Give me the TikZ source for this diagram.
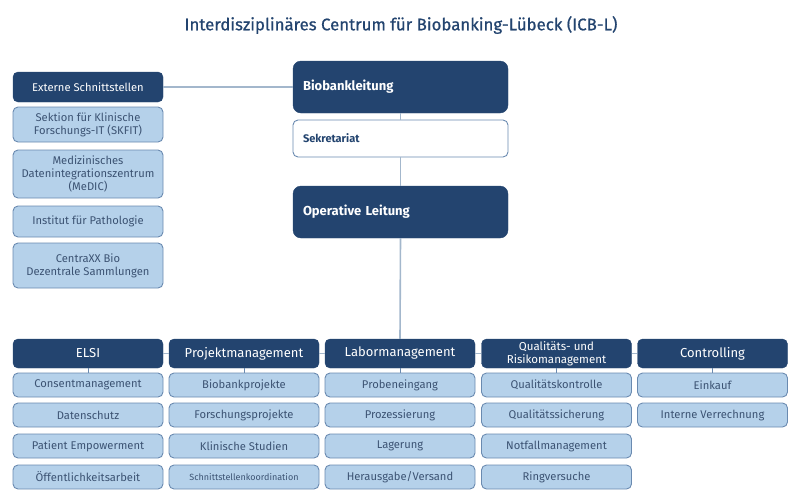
\documentclass[tikz,border=0pt]{standalone}
\usepackage{fontspec}
\setmainfont{Fira Sans}
\newfontfamily\titlefont[FakeBold=0.8]{Fira Sans}
\definecolor{dblue}{HTML}{23446F}
\definecolor{lblue}{HTML}{B5D1EA}
\definecolor{lborder}{HTML}{6A8AB0}
\definecolor{conn}{HTML}{A3B7CC}
\definecolor{ltext}{HTML}{3C5373}
\tikzset{
  x=1pt,y=-1pt,
  dbox/.style={draw=dblue,fill=dblue,text=white,rounded corners=5pt,minimum width=150pt,inner sep=0pt,align=center,font=\fontsize{13}{13}\selectfont},
  lbox/.style={draw=lborder,fill=lblue,text=ltext,rounded corners=5pt,minimum width=150pt,inner sep=0pt,align=center,line width=0.9pt,font=\fontsize{11.2}{13}\selectfont},
  bigbox/.style={draw=dblue,fill=dblue,text=white,rounded corners=8pt,text width=195pt,inner xsep=10pt,inner ysep=0pt,align=left,minimum height=52pt,font=\bfseries\fontsize{13}{13}\selectfont},
  wbox/.style={draw=lborder,fill=white,text=dblue,rounded corners=5pt,text width=195pt,inner xsep=10pt,inner ysep=0pt,align=left,minimum height=37pt,line width=0.9pt,font=\bfseries\fontsize{11}{12}\selectfont},
  cline/.style={draw=conn,line width=1.6pt},
  tick/.style={draw=lborder,line width=1pt}
}
\begin{document}
\begin{tikzpicture}
\useasboundingbox (0,0) rectangle (800,499);
\node[text=dblue,font=\titlefont\fontsize{16.8}{17}\selectfont] (title) at (401,25) {Interdisziplinäres Centrum für Biobanking-Lübeck (ICB-L)};
% left column
\node[dbox,minimum height=30pt,font=\fontsize{11.2}{12}\selectfont] (ext) at (88,87) {Externe Schnittstellen};
\node[lbox,minimum height=35pt] (skfit) at (88,124.5) {Sektion für Klinische\\Forschungs-IT (SKFIT)};
\node[lbox,minimum height=48pt] (medic) at (88,174) {Medizinisches\\Datenintegrationszentrum\\(MeDIC)};
\node[lbox,minimum height=31pt] (path) at (88,221.5) {Institut für Pathologie};
\node[lbox,minimum height=45pt] (cxx) at (88,265.5) {CentraXX Bio\\Dezentrale Sammlungen};
% centre
\node[bigbox] (bbl) at (400.5,87) {Biobankleitung};
\node[wbox] (sekr) at (400.5,138.5) {Sekretariat};
\node[bigbox] (opl) at (400.5,212) {Operative Leitung};
% headers
\node[dbox,minimum height=29pt] (elsi) at (88,353.5) {ELSI};
\node[dbox,minimum height=29pt] (pm) at (244,353.5) {Projektmanagement};
\node[dbox,minimum height=29pt] (lm) at (400,353.5) {Labormanagement};
\node[dbox,minimum height=29pt,font=\fontsize{11.5}{12.5}\selectfont] (qrm) at (556.5,353.5) {Qualitäts- und\\Risikomanagement};
\node[dbox,minimum height=29pt] (ctrl) at (712.5,353.5) {Controlling};
% subs ELSI
\node[lbox,minimum height=24pt] (e1) at (88,385) {Consentmanagement};
\node[lbox,minimum height=24pt] (e2) at (88,415) {Datenschutz};
\node[lbox,minimum height=24pt] (e3) at (88,446) {Patient Empowerment};
\node[lbox,minimum height=24pt] (e4) at (88,477) {Öffentlichkeitsarbeit};
% subs PM
\node[lbox,minimum height=24pt] (p1) at (244,385) {Biobankprojekte};
\node[lbox,minimum height=24pt] (p2) at (244,415) {Forschungsprojekte};
\node[lbox,minimum height=24pt] (p3) at (244,446) {Klinische Studien};
\node[lbox,minimum height=24pt,font=\fontsize{9}{10}\selectfont] (p4) at (244,477) {Schnittstellenkoordination};
% subs LM
\node[lbox,minimum height=24pt] (l1) at (400,385) {Probeneingang};
\node[lbox,minimum height=24pt] (l2) at (400,415) {Prozessierung};
\node[lbox,minimum height=24pt] (l3) at (400,446) {Lagerung};
\node[lbox,minimum height=24pt] (l4) at (400,477) {Herausgabe/Versand};
% subs QRM
\node[lbox,minimum height=24pt] (q1) at (556.5,385) {Qualitätskontrolle};
\node[lbox,minimum height=24pt] (q2) at (556.5,415) {Qualitätssicherung};
\node[lbox,minimum height=24pt] (q3) at (556.5,446) {Notfallmanagement};
\node[lbox,minimum height=24pt] (q4) at (556.5,477) {Ringversuche};
% subs Controlling
\node[lbox,minimum height=24pt] (c1) at (712.5,385) {Einkauf};
\node[lbox,minimum height=24pt] (c2) at (712.5,415) {Interne Verrechnung};
% connectors
\draw[cline] (ext.east) -- (bbl.west);
\draw[cline] (bbl.south) -- (sekr.north);
\draw[cline] (sekr.south) -- (opl.north);
\draw[cline] (opl.south) -- (lm.north);
\draw[cline] (elsi.east) -- (pm.west);
\draw[cline] (pm.east) -- (lm.west);
\draw[cline] (lm.east) -- (qrm.west);
\draw[cline] (qrm.east) -- (ctrl.west);
\draw[tick] (elsi.south) -- (e1.north);
\draw[tick] (pm.south) -- (p1.north);
\draw[tick] (lm.south) -- (l1.north);
\draw[tick] (qrm.south) -- (q1.north);
\draw[tick] (ctrl.south) -- (c1.north);
\end{tikzpicture}
\end{document}
